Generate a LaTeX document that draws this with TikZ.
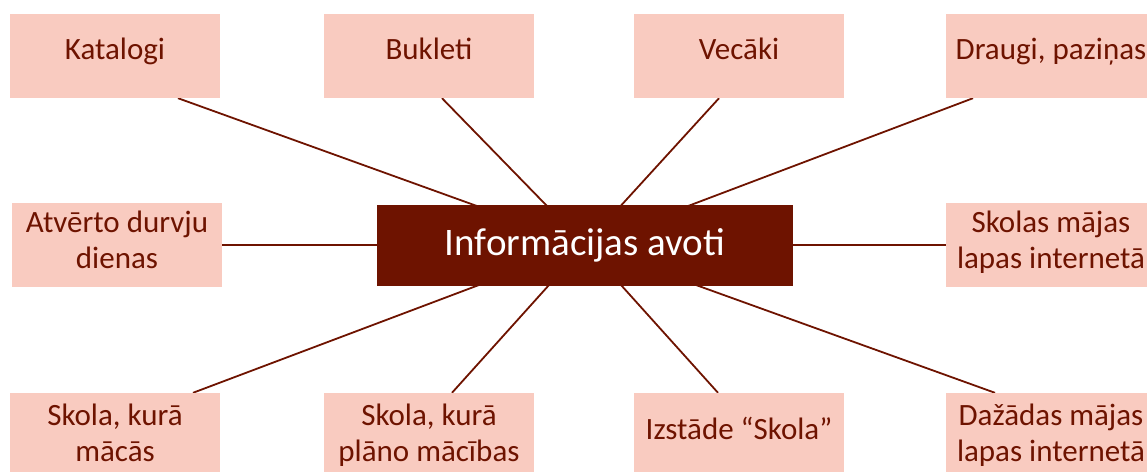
\documentclass[tikz,border=0pt]{standalone}
\usepackage{fontspec}
\setmainfont{Carlito}
\usetikzlibrary{backgrounds}
\definecolor{boxpink}{HTML}{F9CBC0}
\definecolor{darkred}{HTML}{6E1300}
\begin{document}
\begin{tikzpicture}[x=1pt,y=-1pt,
  pbox/.style={fill=boxpink,draw=none,minimum width=210pt,minimum height=84pt,inner sep=0pt},
  ptext/.style={text=darkred,font=\fontsize{31}{36}\selectfont,anchor=base,align=center,inner sep=0pt},
  hub/.style={fill=darkred,draw=none,minimum width=416pt,minimum height=81pt,inner sep=0pt,text=white,font=\fontsize{39}{46}\selectfont},
  link/.style={draw=darkred,line width=1.8pt}]
\useasboundingbox (0,0) rectangle (1147,471);
% top row
\node[pbox] (kat) at (115,56) {};
\node[pbox] (buk) at (429,56) {};
\node[pbox] (vec) at (739,56) {};
\node[pbox] (dra) at (1051,56) {};
% middle row
\node[pbox] (atv) at (117,245) {};
\node[pbox] (sml) at (1051,245) {};
% bottom row
\node[pbox] (smac) at (115,435) {};
\node[pbox] (spl) at (429,435) {};
\node[pbox] (izs) at (739,435) {};
\node[pbox] (daz) at (1051,435) {};
% texts (base anchor = baseline of last line)
\node[ptext] (katT) at ([yshift=-46pt]kat.north) {Katalogi};
\node[ptext] (bukT) at ([yshift=-46pt]buk.north) {Bukleti};
\node[ptext] (vecT) at ([yshift=-46pt]vec.north) {Vecāki};
\node[ptext] (draT) at ([yshift=-46pt]dra.north) {Draugi, paziņas};
\node[ptext] (atvT) at ([yshift=-66pt]atv.north) {Atvērto durvju\\dienas};
\node[ptext] (smlT) at ([yshift=-66pt]sml.north) {Skolas mājas\\lapas internetā};
\node[ptext] (smacT) at ([yshift=-69pt]smac.north) {Skola, kurā\\mācās};
\node[ptext] (splT) at ([yshift=-69pt]spl.north) {Skola, kurā\\plāno mācības};
\node[ptext] (izsT) at ([yshift=-47pt]izs.north) {Izstāde “Skola”};
\node[ptext] (dazT) at ([yshift=-69pt]daz.north) {Dažādas mājas\\lapas internetā};
% hub
\node[hub] (info) at (585,245) {Informācijas avoti};
\begin{pgfonlayer}{background}
\draw[link] ([xshift=63pt]kat.south) -- (info.center);
\draw[link] ([xshift=13pt]buk.south) -- (info.center);
\draw[link] ([xshift=-20pt]vec.south) -- (info.center);
\draw[link] ([xshift=-78pt]dra.south) -- (info.center);
\draw[link] (atv.east) -- (info.center);
\draw[link] (sml.west) -- (info.center);
\draw[link] ([xshift=78pt]smac.north) -- (info.center);
\draw[link] ([xshift=23pt]spl.north) -- (info.center);
\draw[link] ([xshift=-21pt]izs.north) -- (info.center);
\draw[link] ([xshift=-56pt]daz.north) -- (info.center);
\end{pgfonlayer}
\end{tikzpicture}
\end{document}
